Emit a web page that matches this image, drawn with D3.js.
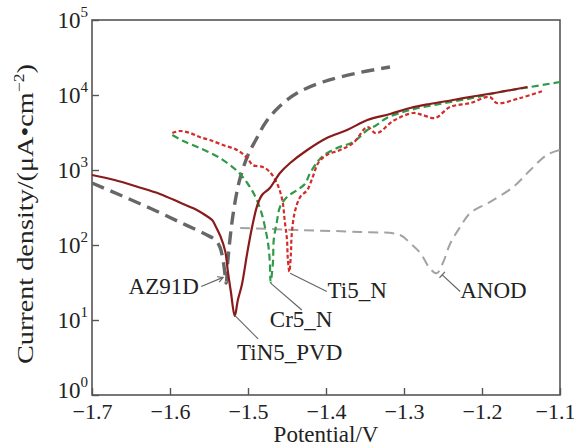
<!DOCTYPE html>
<html lang="en">
<head>
<meta charset="utf-8"/>
<title>Polarization curves</title>
<script src="https://cdn.jsdelivr.net/npm/d3@7/dist/d3.min.js"></script>
<style>
  html, body { margin:0; padding:0; background:#fff; }
  svg { display:block; font-family:"Liberation Serif","Times New Roman",serif; }
  .frame { fill:none; stroke:#555; stroke-width:1.6; }
  .tick line { stroke:#555; stroke-width:1.4; }
  .domain { display:none; }
  .lbl { font-size:23px; fill:#222; }
  .curve { fill:none; stroke-linejoin:round; }
  .leader { stroke:#666; stroke-width:1.2; fill:none; }
</style>
</head>
<body>
<svg width="574" height="448"></svg>
<script>
// potential (V) and current density (µA/cm²)
const az91dV = [-1.700,-1.664,-1.626,-1.588,-1.555,-1.542,-1.536,-1.531,-1.528,-1.526,-1.521,-1.515,-1.509,-1.500,-1.490,-1.477,-1.459,-1.437,-1.404,-1.360,-1.318];
const az91dI = [671,464,311,203,140,117,94,54,31,59,185,464,858,1585,2512,4365,7130,10630,14900,19650,23600];

const tinV = [-1.700,-1.671,-1.641,-1.613,-1.586,-1.568,-1.555,-1.546,-1.541,-1.535,-1.529,-1.526,-1.522,-1.517,-1.513,-1.508,-1.501,-1.495,-1.488,-1.482,-1.472,-1.459,-1.446,-1.424,-1.399,-1.373,-1.347,-1.318,-1.292,-1.267,-1.237,-1.208,-1.177,-1.142];
const tinI = [858,736,593,479,363,302,251,215,174,128,81,46,24,11.3,18.5,29,78,169,341,464,575,912,1240,1849,2673,3415,4642,5580,6710,7590,8580,9700,10960,12790];

const crV = [-1.597,-1.583,-1.562,-1.536,-1.514,-1.501,-1.491,-1.483,-1.478,-1.474,-1.472,-1.471,-1.468,-1.467,-1.463,-1.459,-1.450,-1.437,-1.427,-1.421,-1.412,-1.404,-1.386,-1.365,-1.347,-1.337,-1.322,-1.292,-1.254,-1.212,-1.177,-1.138,-1.100];
const crI = [2929,2436,1965,1445,970,671,450,275,169,100,59,32,59,117,203,321,437,541,651,885,1240,1537,1965,2362,3415,3861,4937,6310,7590,9120,10960,12790,14900];

const tiV = [-1.597,-1.587,-1.574,-1.562,-1.549,-1.532,-1.514,-1.501,-1.494,-1.481,-1.472,-1.463,-1.456,-1.453,-1.450,-1.449,-1.447,-1.445,-1.444,-1.440,-1.433,-1.424,-1.417,-1.410,-1.399,-1.382,-1.365,-1.347,-1.337,-1.331,-1.314,-1.288,-1.276,-1.260,-1.241,-1.215,-1.190,-1.181,-1.151,-1.122];
const tiI = [3113,3311,3113,2754,2512,2154,1849,1445,1166,1096,940,671,398,215,117,67,44,76,136,275,437,541,807,1240,1585,1849,2291,3741,3113,3212,4498,5754,5408,4937,6918,7816,9397,7816,9120,11300];

const anodV = [-1.510,-1.433,-1.356,-1.305,-1.292,-1.279,-1.267,-1.258,-1.250,-1.241,-1.228,-1.215,-1.190,-1.160,-1.138,-1.117,-1.100];
const anodI = [169,158,149,136,106,78,49,42,58,103,174,267,374,593,1000,1585,1849];

const xTicks = [-1.7,-1.6,-1.5,-1.4,-1.3,-1.2,-1.1];
const yExps  = [0,1,2,3,4,5];

// name, leader start [V,I], leader end [V,I], text anchor [V,I], text-anchor
const labels = [
  ["AZ91D",    [-1.532,37],  [-1.560,28],  [-1.563,22],  "end"],
  ["TiN5_PVD", [-1.517,11.5],[-1.487,5.6], [-1.514,2.9], "start"],
  ["Cr5_N",    [-1.471,31],  [-1.431,13.6],[-1.472,8.1], "start"],
  ["Ti5_N",    [-1.446,42],  [-1.399,24],  [-1.398,19.7],"start"],
  ["ANOD",     [-1.251,40],  [-1.228,24],  [-1.228,19.9],"start"]
];

const svg = d3.select("svg");
const x = d3.scaleLinear().domain([-1.7,-1.1]).range([92,560]);
const y = d3.scaleLog().domain([1,1e5]).range([395,20]);

// axes
const xAxis = d3.axisBottom(x).tickValues(xTicks).tickSizeInner(-7).tickSizeOuter(0)
  .tickPadding(8).tickFormat(d3.format(".1f"));
const gx = svg.append("g").attr("transform","translate(0,395)").call(xAxis)
  .attr("font-family",null).attr("font-size",null);
gx.selectAll("text").attr("class","lbl").attr("fill","#222")
  .style("font-size","22px")
  .attr("dx", (d,i) => i === xTicks.length-1 ? -5 : 0);

const yAxis = d3.axisLeft(y).tickValues(yExps.map(e=>Math.pow(10,e))).tickSizeInner(-7)
  .tickSizeOuter(0).tickFormat("");
const gy = svg.append("g").attr("transform","translate(92,0)").call(yAxis)
  .attr("font-family",null).attr("font-size",null);
gy.selectAll(".tick text").remove();
gy.selectAll(".tick").data(yExps).append("text")
  .attr("class","lbl").attr("x",-4).attr("y",e => e === 0 ? 2 : 7).attr("text-anchor","end")
  .each(function(e){
    const t = d3.select(this);
    t.append("tspan").text("10");
    t.append("tspan").attr("dy",-11).style("font-size","15px").text(e);
  });

svg.append("rect").attr("class","frame")
  .attr("x",92).attr("y",20).attr("width",468).attr("height",375);

// axis titles
svg.append("text").attr("class","lbl").attr("x",326).attr("y",442)
  .attr("text-anchor","middle").style("font-size","23px").text("Potential/V");
const yl = svg.append("text").attr("class","lbl")
  .attr("transform","translate(33,214) rotate(-90)")
  .attr("text-anchor","middle").style("font-size","24px")
  .attr("textLength",300).attr("lengthAdjust","spacingAndGlyphs");
yl.append("tspan").text("Current density/(\u03bcA\u2022cm");
yl.append("tspan").attr("dy",-9).style("font-size","15px").text("\u22122");
yl.append("tspan").attr("dy",9).text(")");

// curves
const line = d3.line().x(d=>x(d[0])).y(d=>y(d[1])).curve(d3.curveCatmullRom.alpha(0.5));
const series = [
  {V:anodV, I:anodI, color:"#a3a3a3", w:2,   dash:"10,6"},
  {V:az91dV,I:az91dI,color:"#676767", w:3.4, dash:"13,7"},
  {V:crV,   I:crI,   color:"#2f9a48", w:2.2, dash:"7,4"},
  {V:tiV,   I:tiI,   color:"#d42b2b", w:2.2, dash:"4,2.5"},
  {V:tinV,  I:tinI,  color:"#8a1b1b", w:2.2, dash:null}
];
svg.append("g").selectAll("path").data(series).join("path")
  .attr("class","curve")
  .attr("d", s => line(d3.zip(s.V, s.I)))
  .attr("stroke", s => s.color)
  .attr("stroke-width", s => s.w)
  .attr("stroke-dasharray", s => s.dash);

// annotations
const ann = svg.append("g");
labels.forEach(([name, a, b, t, anchor]) => {
  ann.append("line").attr("class","leader")
    .attr("x1",x(a[0])).attr("y1",y(a[1])).attr("x2",x(b[0])).attr("y2",y(b[1]));
  ann.append("text").attr("class","lbl").attr("x",x(t[0])).attr("y",y(t[1]))
    .attr("text-anchor",anchor).text(name);
});
// small arrow head on AZ91D leader, cross tick on ANOD leader
{
  const [, a, b] = labels[0];
  const x1 = x(a[0]), y1 = y(a[1]), x0 = x(b[0]), y0 = y(b[1]);
  const ang = Math.atan2(y1-y0, x1-x0);
  const p = (r,da) => [x1 - r*Math.cos(ang+da), y1 - r*Math.sin(ang+da)];
  ann.append("path").attr("class","leader")
    .attr("d", `M${p(6,0.5)}L${x1},${y1}L${p(6,-0.5)}`);
  const [, c, d] = labels[4];
  const cx = x(c[0]), cy = y(c[1]);
  const a2 = Math.atan2(y(d[1])-cy, x(d[0])-cx) + Math.PI/2;
  ann.append("line").attr("class","leader")
    .attr("x1",cx-4*Math.cos(a2)).attr("y1",cy-4*Math.sin(a2))
    .attr("x2",cx+4*Math.cos(a2)).attr("y2",cy+4*Math.sin(a2));
}
</script>
</body>
</html>
